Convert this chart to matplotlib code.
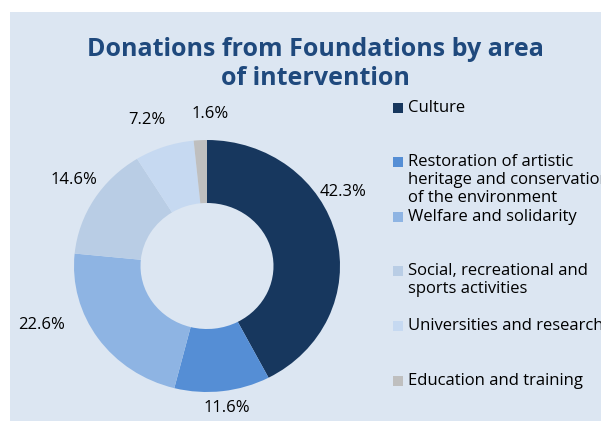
import matplotlib.pyplot as plt
from matplotlib.patches import Rectangle

# data
areas = ["Culture",
         "Restoration of artistic\nheritage and conservation\nof the environment",
         "Welfare and solidarity",
         "Social, recreational and\nsports activities",
         "Universities and research",
         "Education and training"]
shares = [42.3, 11.6, 22.6, 14.6, 7.2, 1.6]
colors = ["#17375E", "#558ED5", "#8EB4E3", "#B9CDE5", "#C6D9F1", "#BFBFBF"]

# layout (pixels)
W, H = 601, 421
cx, cy = 207, 266
rx, ry = 133, 126
label_pos = [(343, 192), (227, 408), (42, 325), (74, 180), (147, 120), (210, 114)]
legend_y = [108, 162, 217, 271, 326, 381]

plt.rcParams["font.family"] = ["Open Sans", "DejaVu Sans"]

fig = plt.figure(figsize=(W / 100, H / 100), dpi=100)
fig.patch.set_facecolor("white")
fig.patches.append(Rectangle((10 / W, 0), 1, 1 - 12 / H, transform=fig.transFigure,
                             facecolor="#DCE6F2", edgecolor="none", zorder=-5))

def fx(px):
    return px / W

def fy(py):
    return 1 - py / H

half = 150
ax = fig.add_axes([fx(cx - half), fy(cy + half), 2 * half / W, 2 * half / H])
ax.pie(shares, colors=colors, startangle=90, counterclock=False, radius=1,
       wedgeprops=dict(width=0.5, edgecolor="none"))
ax.set_aspect("auto")
ax.set_xlim(-half / rx, half / rx)
ax.set_ylim(-half / ry, half / ry)
ax.axis("off")

for val, (px, py) in zip(shares, label_pos):
    fig.text(fx(px), fy(py), f"{val}%", ha="center", va="center",
             fontsize=12, color="black")

fig.text(fx(315), fy(64), "Donations from Foundations by area\nof intervention",
         ha="center", va="center", fontsize=18, fontweight="bold",
         color="#1F497D", linespacing=1.25)

for name, col, y in zip(areas, colors, legend_y):
    fig.patches.append(Rectangle((fx(393), fy(y + 5)), 10 / W, 10 / H,
                                 transform=fig.transFigure, facecolor=col,
                                 edgecolor="none"))
    for i, line in enumerate(name.split("\n")):
        fig.text(fx(408), fy(y + 18 * i), line, ha="left", va="center",
                 fontsize=12, color="black")

fig.savefig("out.png", dpi=100)
